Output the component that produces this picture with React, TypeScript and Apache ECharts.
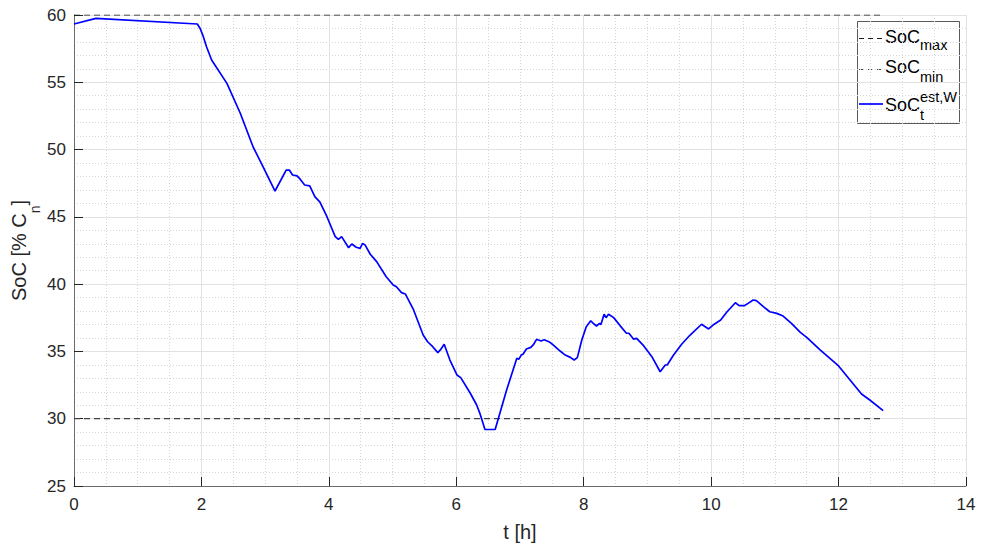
import React, { useEffect, useRef } from 'react';
import * as echarts from 'echarts';

// Estimated state of charge
const timeH = [
  0.0, 0.345, 1.935, 1.98, 2.03, 2.08, 2.16, 2.4, 2.61, 2.81, 2.97, 3.155, 3.33, 3.38, 3.43, 3.5, 3.55,
  3.62, 3.7, 3.78, 3.86, 3.97, 4.1, 4.15, 4.2, 4.31, 4.36, 4.43, 4.49, 4.53, 4.57, 4.65, 4.75,
  4.9, 5.01, 5.06, 5.14, 5.2, 5.33, 5.48, 5.55, 5.63, 5.71, 5.75, 5.81, 5.9, 6.01, 6.07, 6.22,
  6.32, 6.37, 6.45, 6.61, 6.79, 6.95, 6.98, 7.02, 7.05, 7.1, 7.17, 7.21, 7.26, 7.33, 7.38, 7.47,
  7.52, 7.63, 7.71, 7.79, 7.85, 7.9, 7.97, 8.04, 8.11, 8.15, 8.2, 8.25, 8.27, 8.32, 8.35, 8.39,
  8.47, 8.57, 8.67, 8.71, 8.78, 8.83, 8.94, 9.07, 9.2, 9.28, 9.31, 9.41, 9.54, 9.67, 9.85, 9.89,
  9.96, 10.03, 10.15, 10.25, 10.38, 10.44, 10.52, 10.58, 10.66, 10.71, 10.82, 10.92, 11.03, 11.13,
  11.26, 11.4, 11.5, 11.71, 12.0, 12.18, 12.36, 12.49, 12.7,
];
const socEst = [
  59.33, 59.75, 59.33, 59.0, 58.39, 57.64, 56.66, 54.92, 52.7, 50.21, 48.7, 46.92, 48.48, 48.48, 48.11, 48.05, 47.8,
  47.37, 47.3, 46.5, 46.1, 45.01, 43.53, 43.33, 43.53, 42.71, 42.98, 42.74, 42.66, 43.03, 42.9, 42.22, 41.67,
  40.55, 39.94, 39.81, 39.37, 39.27, 38.08, 36.22, 35.72, 35.35, 34.91, 35.11, 35.53, 34.36, 33.25, 33.05, 31.89,
  31.02, 30.4, 29.2, 29.2, 32.13, 34.49, 34.41, 34.73, 34.81, 35.18, 35.3, 35.5, 35.9, 35.77, 35.87, 35.68,
  35.48, 35.03, 34.73, 34.56, 34.36, 34.54, 35.85, 36.84, 37.28, 37.09, 36.89, 37.09, 37.0, 37.76, 37.51, 37.76,
  37.51, 36.92, 36.35, 36.35, 35.92, 35.97, 35.43, 34.61, 33.49, 33.99, 33.99, 34.73, 35.55, 36.22, 37.02, 36.89,
  36.67, 36.96, 37.33, 37.95, 38.62, 38.4, 38.4, 38.57, 38.82, 38.78, 38.33, 37.95, 37.83, 37.63,
  37.09, 36.42, 36.05, 35.11, 33.92, 32.88, 31.84, 31.39, 30.6,
];

// Limits
const limitTime = [0, 12.7];
const socMax = [60, 60];
const socMin = [30, 30];

// Axes
const xRange = [0, 14];
const xStep = 2;
const yRange = [25, 60];
const yStep = 5;

const FONT = '"Liberation Sans", Arial, Helvetica, sans-serif';
const TXT = '#262626';

export default function App() {
  const ref = useRef<HTMLDivElement>(null);

  useEffect(() => {
    if (!ref.current) return;
    const chart = echarts.init(ref.current, undefined, { renderer: 'svg' });

    const estData = timeH.map((t, i) => [t, socEst[i]]);
    const maxData = limitTime.map((t, i) => [t, socMax[i]]);
    const minData = limitTime.map((t, i) => [t, socMin[i]]);

    const axisCommon = {
      axisLine: { show: true, onZero: false, lineStyle: { color: '#6b6b6b', width: 1 } },
      axisTick: { show: true, inside: true, length: 9, lineStyle: { color: TXT, width: 1 } },
      splitLine: { show: true, lineStyle: { color: '#e2e2e2', width: 1 } },
      minorSplitLine: { show: true, lineStyle: { color: '#d6d6d6', width: 1, type: [1, 2] } },
      nameTextStyle: { color: TXT, fontFamily: FONT, fontSize: 20 },
      nameMoveOverlap: false,
    };

    chart.setOption({
      animation: false,
      backgroundColor: '#fff',
      grid: { left: 74, right: 16, top: 15, bottom: 62, containLabel: false, outerBoundsMode: 'none' },
      xAxis: {
        type: 'value',
        min: xRange[0],
        max: xRange[1],
        interval: xStep,
        name: 't [h]',
        nameLocation: 'middle',
        nameGap: 36,
        ...axisCommon,
        minorTick: { show: false, splitNumber: 4 },
        axisLabel: { color: TXT, fontFamily: FONT, fontSize: 17, margin: 10 },
      },
      yAxis: {
        type: 'value',
        min: yRange[0],
        max: yRange[1],
        interval: yStep,
        name: '{a|SoC [% C}{s|n}{a|]}',
        nameLocation: 'middle',
        nameGap: 43,
        ...axisCommon,
        nameTextStyle: {
          color: TXT,
          fontFamily: FONT,
          fontSize: 20,
          rich: {
            a: { color: TXT, fontFamily: FONT, fontSize: 20, lineHeight: 22, verticalAlign: 'top' },
            s: { color: TXT, fontFamily: FONT, fontSize: 14, lineHeight: 14, verticalAlign: 'top', padding: [19, 0, 0, 0] },
          },
        },
        minorTick: { show: false, splitNumber: 5 },
        axisLabel: { color: TXT, fontFamily: FONT, fontSize: 17, margin: 8 },
      },
      series: [
        {
          name: 'SoCmax',
          type: 'line',
          data: maxData,
          symbol: 'none',
          lineStyle: { color: '#1a1a1a', width: 1.2, type: [6, 4] },
          z: 3,
        },
        {
          name: 'SoCmin',
          type: 'line',
          data: minData,
          symbol: 'none',
          lineStyle: { color: '#404040', width: 1.2, type: [6, 4] },
          z: 3,
        },
        {
          name: 'SoCest',
          type: 'line',
          data: estData,
          symbol: 'none',
          lineStyle: { color: '#0000ff', width: 1.7 },
          z: 4,
        },
      ],
      graphic: [
        {
          type: 'group',
          z: 100,
          children: [
            { type: 'rect', shape: { x: 857.5, y: 21.5, width: 102, height: 102 }, style: { fill: '#fff', stroke: '#5a5a5a', lineWidth: 1 } },
            { type: 'line', shape: { x1: 859, y1: 38.5, x2: 883, y2: 38.5 }, style: { stroke: '#1a1a1a', lineWidth: 1.2, lineDash: [5, 4] } },
            { type: 'line', shape: { x1: 859, y1: 69.5, x2: 883, y2: 69.5 }, style: { stroke: '#404040', lineWidth: 1.2, lineDash: [5, 4] } },
            { type: 'line', shape: { x1: 859, y1: 104, x2: 883, y2: 104 }, style: { stroke: '#0000ff', lineWidth: 1.7 } },
            { type: 'text', x: 885, y: 37.2, style: { text: 'SoC', fill: '#000', font: `18px ${FONT}`, verticalAlign: 'middle', align: 'left' } },
            { type: 'text', x: 920, y: 44.9, style: { text: 'max', fill: '#000', font: `14.5px ${FONT}`, verticalAlign: 'middle', align: 'left' } },
            { type: 'text', x: 885, y: 67, style: { text: 'SoC', fill: '#000', font: `18px ${FONT}`, verticalAlign: 'middle', align: 'left' } },
            { type: 'text', x: 920, y: 76.6, style: { text: 'min', fill: '#000', font: `14.5px ${FONT}`, verticalAlign: 'middle', align: 'left' } },
            { type: 'text', x: 885, y: 105.4, style: { text: 'SoC', fill: '#000', font: `18px ${FONT}`, verticalAlign: 'middle', align: 'left' } },
            { type: 'text', x: 920, y: 96.6, style: { text: 'est,W', fill: '#000', font: `14.5px ${FONT}`, verticalAlign: 'middle', align: 'left' } },
            { type: 'text', x: 920, y: 114.9, style: { text: 't', fill: '#000', font: `14.5px ${FONT}`, verticalAlign: 'middle', align: 'left' } },
          ],
        },
      ],
    });

    return () => chart.dispose();
  }, []);

  return (
    <div
      ref={ref}
      style={{ position: 'fixed', left: 0, top: 0, width: 982, height: 548, background: '#fff' }}
    />
  );
}
